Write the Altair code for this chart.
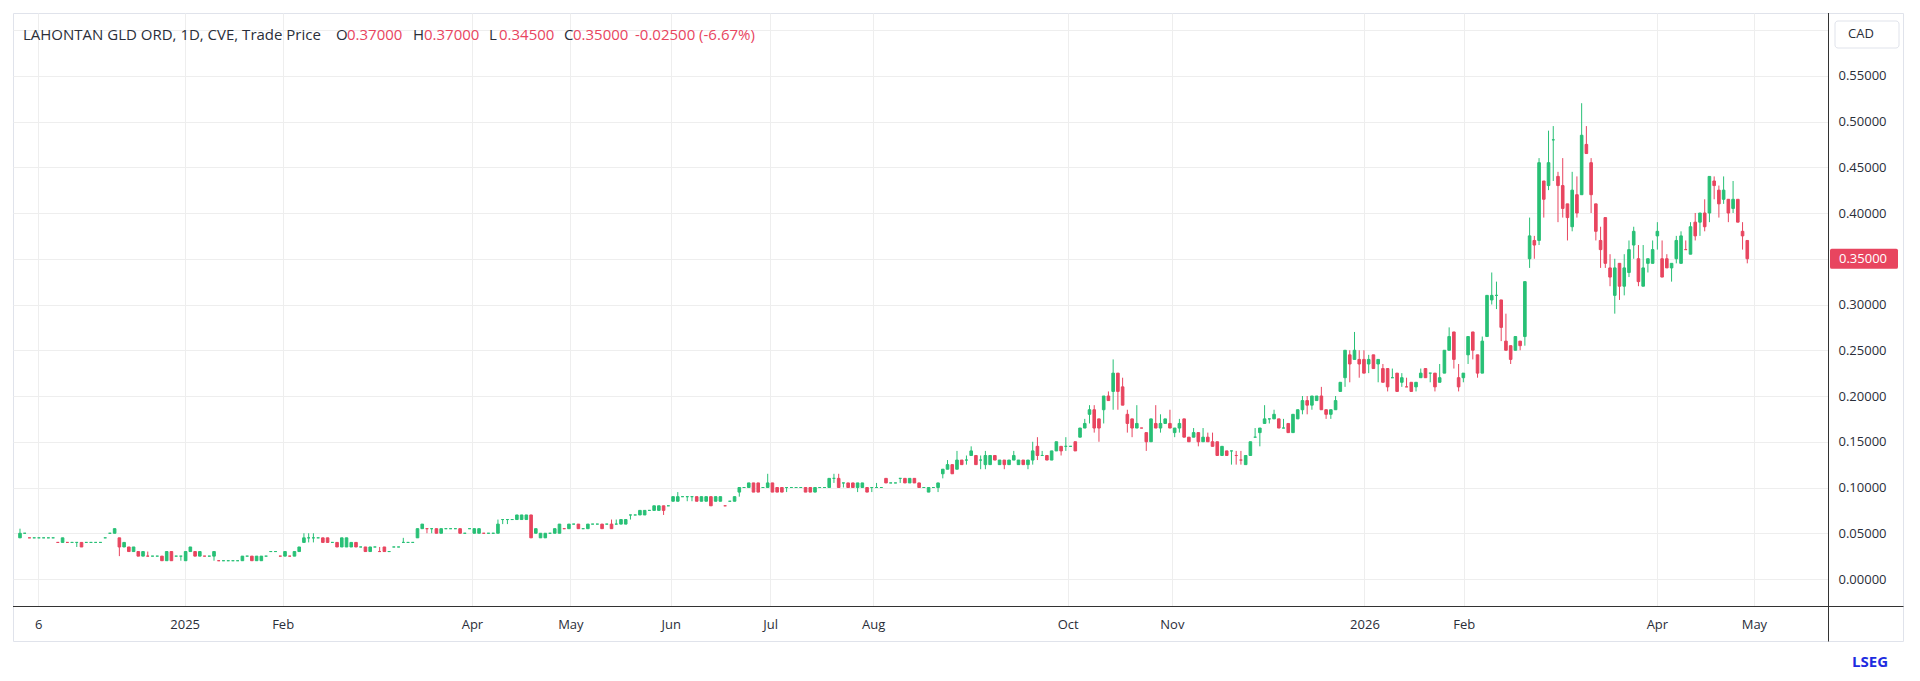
import json
import altair as alt
import numpy as np
import pandas as pd

# ---------------- data (prices in thousandths of CAD) ----------------
OPEN_M = [45,50,45,45,45,45,45,45,40,40,
 40,40,40,40,40,40,40,40,45,50,
 50,45,35,35,30,30,25,25,25,25,
 25,20,30,25,25,20,30,30,25,25,
 25,25,20,20,20,20,20,20,25,25,
 20,20,25,30,30,25,25,25,25,30,
 40,45,45,45,45,45,40,40,35,35,
 35,40,35,35,30,35,30,35,30,35,
 35,40,40,40,45,55,55,55,55,50,
 55,55,55,55,50,55,50,50,50,50,
 50,50,65,65,65,65,65,65,70,50,
 45,45,50,50,50,55,55,60,60,55,
 55,60,60,60,60,60,60,60,60,70,
 70,70,70,75,75,75,80,80,85,85,
 90,90,90,90,85,85,90,85,85,80,
 85,85,95,100,100,105,105,100,100,105,
 100,100,100,100,100,100,100,100,95,100,
 100,100,110,110,105,105,105,100,100,100,
 100,100,100,110,105,105,110,110,105,110,
 105,100,95,100,100,115,120,125,120,130,
 130,135,135,130,125,125,135,125,130,125,
 130,125,130,125,130,145,135,135,130,140,
 145,145,145,150,155,165,180,185,175,185,
 200,205,225,210,180,175,165,165,160,150,
 170,165,170,170,160,165,175,155,155,160,
 150,155,150,150,135,140,140,135,130,125,
 135,155,160,170,175,175,175,165,170,160,
 175,185,195,190,195,200,185,180,185,205,
 220,245,240,240,240,235,245,235,230,230,
 220,225,215,210,215,210,220,230,225,225,
 215,225,250,270,220,220,245,270,245,225,
 265,305,310,305,260,255,250,260,265,350,
 370,370,435,430,480,440,430,410,385,420,
 420,475,455,410,370,395,340,310,345,320,
 335,365,350,320,345,345,375,350,350,340,
 350,345,360,355,390,390,400,400,435,425,
 415,415,405,415,380,370]

HIGH_M = [55,50,45,45,45,45,45,45,40,45,
 40,40,40,40,40,40,40,40,45,50,
 55,45,40,35,35,30,30,30,25,25,
 25,30,30,25,25,30,35,30,30,25,
 25,30,20,20,20,20,20,25,25,25,
 25,25,25,30,30,25,30,25,30,35,
 50,50,50,45,45,45,40,40,45,45,
 40,40,35,35,35,35,35,35,30,35,
 35,45,40,40,55,60,55,55,55,55,
 55,55,55,55,50,55,55,55,50,50,
 50,65,65,65,65,70,70,70,70,55,
 50,50,50,55,60,55,60,60,60,55,
 60,60,60,60,60,65,65,65,65,70,
 70,75,75,75,80,80,80,80,90,95,
 90,90,90,90,90,90,90,90,90,80,
 85,90,100,100,105,105,105,100,115,105,
 100,100,100,100,100,100,100,100,100,100,
 100,110,115,115,105,105,105,105,105,100,
 100,105,100,110,105,105,110,110,110,110,
 105,100,100,100,105,120,130,125,140,130,
 135,145,135,135,140,135,135,130,130,130,
 140,130,130,130,150,155,140,135,140,150,
 145,155,145,150,165,175,190,190,175,200,
 205,240,225,220,185,175,190,165,160,175,
 190,180,175,185,165,175,175,155,165,160,
 165,160,160,150,145,140,140,140,140,135,
 150,165,165,190,175,185,175,175,170,180,
 185,200,200,200,200,210,185,185,200,215,
 250,250,270,250,250,245,245,240,235,230,
 230,225,225,220,215,215,230,230,225,225,
 235,250,275,270,235,225,265,270,245,265,
 310,335,325,305,290,255,265,260,325,395,
 375,460,435,490,495,445,460,410,445,440,
 520,495,460,410,385,395,355,350,345,355,
 370,385,365,365,350,370,390,370,355,345,
 375,380,370,390,400,400,415,440,440,430,
 440,415,435,415,390,370]

LOW_M = [45,50,45,45,45,45,45,45,40,40,
 40,40,35,35,40,40,40,40,45,50,
 50,25,35,30,30,25,25,25,25,25,
 20,20,20,25,20,20,30,25,25,25,
 25,20,20,20,20,20,20,20,25,20,
 20,20,25,30,30,25,25,25,25,30,
 40,40,40,45,40,40,40,35,35,35,
 35,35,35,30,30,35,30,30,30,35,
 35,40,40,40,45,55,50,50,50,50,
 55,55,55,50,50,55,50,50,50,50,
 50,50,60,60,65,65,65,65,45,50,
 45,45,50,50,50,55,55,60,55,55,
 55,60,60,55,60,55,60,60,60,65,
 70,70,70,75,75,75,70,80,85,85,
 90,85,85,85,85,85,80,85,85,80,
 85,85,90,100,100,95,95,100,100,95,
 95,95,95,100,100,100,95,95,95,100,
 100,100,105,100,100,100,100,95,100,95,
 95,100,100,105,105,105,105,105,105,105,
 100,100,95,100,95,110,120,115,120,125,
 125,135,125,120,120,125,130,125,120,125,
 130,125,125,120,125,130,135,130,130,140,
 135,140,145,140,155,165,170,160,150,170,
 195,185,185,190,160,155,165,165,140,150,
 165,160,170,165,155,160,155,150,155,145,
 150,150,145,135,135,135,125,125,125,125,
 135,155,145,170,170,175,165,165,160,160,
 175,180,180,185,195,185,175,175,185,205,
 210,215,240,220,225,225,230,215,215,205,
 220,205,210,210,205,205,220,220,215,205,
 215,225,250,230,205,215,235,240,220,225,
 265,300,295,260,250,235,250,250,255,340,
 350,365,395,425,435,390,395,370,380,395,
 420,465,400,370,340,340,320,290,305,310,
 330,350,320,320,335,345,360,330,340,325,
 345,345,360,355,370,375,380,390,415,395,
 410,390,400,390,360,345]

CLOSE_M = [50,50,45,45,45,45,45,45,40,45,
 40,40,40,35,40,40,40,40,45,50,
 55,35,40,30,35,25,30,25,25,25,
 20,30,20,25,25,30,35,25,30,25,
 25,30,20,20,20,20,20,25,25,20,
 25,25,25,30,30,25,30,25,30,35,
 45,45,45,45,40,40,40,35,45,45,
 40,35,35,30,35,35,30,30,30,35,
 35,40,40,40,55,60,55,55,50,55,
 55,55,55,50,50,55,55,55,50,50,
 50,60,65,65,65,70,70,70,45,55,
 50,50,50,55,60,55,60,60,55,55,
 60,60,60,55,60,55,60,65,65,70,
 70,75,75,75,80,80,75,80,90,90,
 90,90,90,85,90,90,80,90,90,80,
 85,90,100,100,105,95,95,100,105,95,
 95,95,100,100,100,100,95,95,100,100,
 100,110,110,100,105,100,100,105,105,95,
 100,100,100,105,105,105,110,105,110,105,
 100,100,100,100,105,120,125,115,130,125,
 130,140,125,130,135,135,130,130,125,130,
 135,130,125,130,140,135,135,130,140,150,
 140,145,145,140,165,170,185,165,165,200,
 195,225,205,190,170,165,170,165,150,175,
 165,170,175,165,165,170,155,150,160,150,
 155,150,145,135,145,135,140,135,130,135,
 150,155,165,175,175,180,165,165,160,180,
 185,195,190,200,200,185,180,185,195,215,
 250,235,250,235,225,240,230,240,215,210,
 220,205,220,210,205,215,225,220,225,210,
 220,250,265,240,210,225,265,250,225,260,
 310,310,310,275,250,240,265,255,325,375,
 365,455,415,455,480,430,405,395,425,400,
 485,465,420,380,360,345,330,340,320,340,
 360,380,325,340,350,360,380,330,340,345,
 370,375,360,385,375,400,385,440,430,410,
 425,400,415,390,375,350]

# x-axis ticks (candle index where each month label sits) and their labels
TICK_POS = [3.85, 34.8, 55.5, 95.5, 116.3, 137.5, 158.5, 180.3, 221.4, 243.4, 284.1, 305.1, 345.9, 366.4]
TICK_LABELS = ["6", "2025", "Feb", "Apr", "May", "Jun", "Jul", "Aug", "Oct", "Nov", "2026", "Feb", "Apr", "May"]
PRICE_TICKS = [0.00, 0.05, 0.10, 0.15, 0.20, 0.25, 0.30, 0.35, 0.40, 0.45, 0.50, 0.55, 0.60]

HEADER_NAME = "LAHONTAN GLD ORD, 1D, CVE, Trade Price"
HEADER_KEYS = ["O", "H", "L", "C"]
HEADER_VALUES = ["0.37000", "0.37000", "0.34500", "0.35000"]
HEADER_CHANGE = "-0.02500 (-6.67%)"
CURRENCY = "CAD"
BRAND = "LSEG"

# ---------------- styling / layout ----------------
GREEN = "#28C076"
RED = "#E8455F"
TEXT = "#2a2e39"
GRID = "#eeeeee"
FRAME = "#e0e3eb"
AXISLINE = "#333333"
FONT = "Open Sans"
W, H = 1815, 593
AXIS_W, AXIS_H = 75, 35

df = pd.DataFrame({
    "i": np.arange(len(CLOSE_M)),
    "open": np.array(OPEN_M) / 1000.0,
    "high": np.array(HIGH_M) / 1000.0,
    "low": np.array(LOW_M) / 1000.0,
    "close": np.array(CLOSE_M) / 1000.0,
})
prev = df["close"].shift(1).fillna(df["close"].iloc[0])
df["dir"] = np.where(df["close"] > df["open"], "up",
             np.where(df["close"] < df["open"], "down",
             np.where(df["close"] < prev, "down", "up")))

xscale = alt.Scale(domain=[-0.42, 381.0], nice=False, zero=False)
yscale = alt.Scale(domain=[-0.0295, 0.6186], nice=False, zero=False)

label_expr = "%s[indexof(%s, datum.value)]" % (json.dumps(TICK_LABELS), json.dumps(TICK_POS))
xaxis = alt.Axis(values=TICK_POS, labelExpr=label_expr, title=None, grid=True,
                 gridColor=GRID, gridWidth=1, ticks=False, tickSize=0, domain=False,
                 labelPadding=12, labelFontSize=13, labelFont=FONT, labelColor=TEXT,
                 labelFontWeight={"condition": {"test": "datum.label == '2025' || datum.label == '2026'",
                                                "value": "bold"}, "value": "normal"},
                 labelFlush=False, labelOverlap=False)
yaxis = alt.Axis(orient="right", values=PRICE_TICKS,
                 labelExpr="datum.value > 0.575 ? '' : format(datum.value, '.5f')",
                 title=None, grid=True, gridColor=GRID, gridWidth=1, ticks=False, tickSize=0,
                 domain=False, labelPadding=10, labelFontSize=13, labelFont=FONT,
                 labelColor=TEXT, labelFlush=False, labelOverlap=False)


def X():
    return alt.X("i:Q", scale=xscale, axis=xaxis)


def Y(field):
    return alt.Y(field + ":Q", scale=yscale, axis=yaxis)


cscale = alt.Scale(domain=["up", "down"], range=[GREEN, RED])
base = alt.Chart(df)

wicks = base.mark_rule(strokeWidth=1).encode(
    x=X(), y=Y("low"), y2="high",
    color=alt.Color("dir:N", scale=cscale, legend=None))
bodies = base.mark_bar(size=2.6, strokeWidth=1).encode(
    x=X(), y=Y("open"), y2="close",
    color=alt.Color("dir:N", scale=cscale, legend=None),
    stroke=alt.Stroke("dir:N", scale=cscale, legend=None))

last = df.tail(1)
BOX = ("M-0.95,-0.294 L0.95,-0.294 Q1,-0.294 1,-0.24 L1,0.24 Q1,0.294 0.95,0.294 "
       "L-0.95,0.294 Q-1,0.294 -1,0.24 L-1,-0.24 Q-1,-0.294 -0.95,-0.294 Z")
price_box = alt.Chart(last).mark_point(shape=BOX, size=4624, filled=True, opacity=1,
                                        color=RED, strokeWidth=0).encode(
    x=alt.value(W + 36), y=Y("close"))
price_txt = alt.Chart(last).mark_text(align="left", baseline="middle", color="white",
                                       fontSize=13, font=FONT).encode(
    x=alt.value(W + 11), y=Y("close"), text=alt.Text("close:Q", format=".5f"))

one = pd.DataFrame({"k": [0]})


def txt(t, x, y, color=TEXT, size=15, weight="normal"):
    return alt.Chart(pd.DataFrame({"t": [t]})).mark_text(
        align="left", baseline="middle", fontSize=size, font=FONT, color=color,
        fontWeight=weight).encode(text="t:N", x=alt.value(x), y=alt.value(y))


def rule(x1, x2, y1, y2, color, width=1):
    return alt.Chart(one).mark_rule(color=color, strokeWidth=width).encode(
        x=alt.value(x1), x2=alt.value(x2), y=alt.value(y1), y2=alt.value(y2))


HY = 22
header = [txt(HEADER_NAME, 10, HY)]
key_x = [323, 400, 476, 551]
val_x = [334, 411, 486, 560]
for k, v, kx, vx in zip(HEADER_KEYS, HEADER_VALUES, key_x, val_x):
    header.append(txt(k, kx, HY))
    header.append(txt(v, vx, HY, color=RED))
header.append(txt(HEADER_CHANGE, 622, HY, color=RED))

cad_box = alt.Chart(one).mark_rect(fill="white", stroke=FRAME, strokeWidth=1, cornerRadius=3).encode(
    x=alt.value(W + 7), x2=alt.value(W + 71), y=alt.value(8), y2=alt.value(35))
cad_txt = txt(CURRENCY, W + 20, 21, size=13)
brand = txt(BRAND, W + 24, 649, color="#1E2CE0", size=15, weight="bold")

frame = [
    rule(W + 0.5, W + AXIS_W + 0.5, 0.5, 0.5, FRAME),
    rule(W + AXIS_W + 0.5, W + AXIS_W + 0.5, 0.5, H + AXIS_H + 0.5, FRAME),
    rule(0.5, W + AXIS_W + 0.5, H + AXIS_H + 0.5, H + AXIS_H + 0.5, FRAME),
    rule(0.5, 0.5, H, H + AXIS_H + 0.5, FRAME),
    rule(W + 0.5, W + 0.5, 0, H + AXIS_H + 0.5, AXISLINE),
    rule(0, W + AXIS_W + 0.5, H + 0.5, H + 0.5, AXISLINE),
]

chart = alt.layer(
    wicks, bodies, *frame, price_box, price_txt, cad_box, cad_txt, brand, *header
).properties(
    width=W, height=H,
    padding={"left": 4, "top": 4, "right": 0, "bottom": 0},
    background="white",
).configure_view(stroke=FRAME, strokeWidth=1)

chart.save("out.html", embed_options={"renderer": "svg", "actions": False})
